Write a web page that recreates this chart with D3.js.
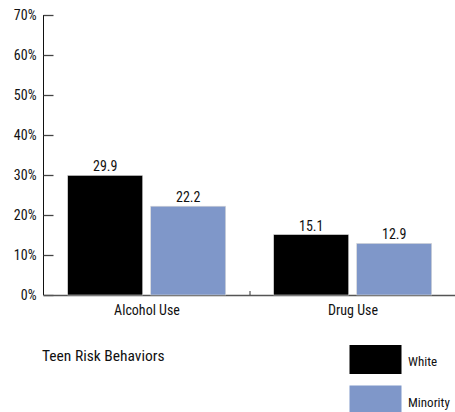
<!DOCTYPE html>
<html><head><meta charset="utf-8">
<script src="https://cdn.jsdelivr.net/npm/d3@7"></script>
<style>
body{margin:0;background:#fff}
svg text{font-family:"Roboto Condensed",serif;fill:#111}
</style></head>
<body><svg id="c" width="455" height="412"></svg>
<script>
const categories = ["Alcohol Use", "Drug Use"];
const seriesNames = ["White", "Minority"];
const whiteValues = [29.9, 15.1];
const minorityValues = [22.2, 12.9];
const yTicks = [0, 10, 20, 30, 40, 50, 60, 70];
const colors = ["#000000", "#7f97c9"];
const title = "Teen Risk Behaviors";

const svg = d3.select("#c");
const x0 = d3.scaleBand().domain(categories).range([44, 456]);
const x1 = d3.scaleBand().domain(seriesNames).range([23.7, 181.7]).paddingInner(8 / 83);
const y = d3.scaleLinear().domain([0, 70]).range([295, 15]);

const ya = svg.append("g").attr("transform", "translate(43.5,0)")
  .call(d3.axisRight(y).tickValues(yTicks).tickFormat(d => d + "%").tickSize(10));
ya.select(".domain").attr("stroke", "#111").attr("d", `M0,${y(70)}V${y(0)}`);
ya.selectAll(".tick line").attr("stroke", "#444").attr("stroke-width", 1.3);
ya.selectAll(".tick text").attr("x", -7).attr("text-anchor", "end").attr("font-size", 14).attr("dy", "0.35em");

svg.append("line").attr("x1", 43.5).attr("x2", 456).attr("y1", 295.5).attr("y2", 295.5).attr("stroke", "#555").attr("stroke-width", 1.3);
svg.append("line").attr("x1", x0("Drug Use")).attr("x2", x0("Drug Use")).attr("y1", 291).attr("y2", 295).attr("stroke", "#333");

const data = categories.map((c, i) => ({cat: c, vals: [whiteValues[i], minorityValues[i]]}));
const g = svg.selectAll("g.cat").data(data).enter().append("g").attr("class", "cat")
  .attr("transform", d => `translate(${x0(d.cat)},0)`);
g.selectAll("rect").data(d => d.vals.map((v, j) => ({v, s: seriesNames[j], j}))).enter().append("rect")
  .attr("x", d => x1(d.s)).attr("width", x1.bandwidth())
  .attr("y", d => y(d.v)).attr("height", d => y(0) - y(d.v))
  .attr("fill", d => colors[d.j]).attr("stroke", "#d8d8d8").attr("stroke-width", 0.6);
g.selectAll("text.val").data(d => d.vals.map((v, j) => ({v, s: seriesNames[j], j}))).enter().append("text")
  .attr("class", "val").attr("x", d => x1(d.s) + x1.bandwidth() / 2).attr("y", d => y(d.v) - 4)
  .attr("text-anchor", "middle").attr("font-size", 14).text(d => d3.format(".1f")(d.v));
g.append("text").attr("x", x0.bandwidth() / 2).attr("y", 314.5).attr("text-anchor", "middle")
  .attr("font-size", 14).text(d => d.cat);

svg.append("text").attr("x", 42).attr("y", 361).attr("font-size", 15.5).text(title);

const lg = svg.selectAll("g.leg").data(seriesNames).enter().append("g").attr("class", "leg");
lg.append("rect").attr("x", 349.5).attr("y", (d, i) => 345 + i * 40.5).attr("width", 52).attr("height", 29)
  .attr("fill", (d, i) => colors[i]);
lg.append("text").attr("x", 408).attr("y", (d, i) => 366 + i * 40.5).attr("font-size", 13).text(d => d);
</script></body></html>
